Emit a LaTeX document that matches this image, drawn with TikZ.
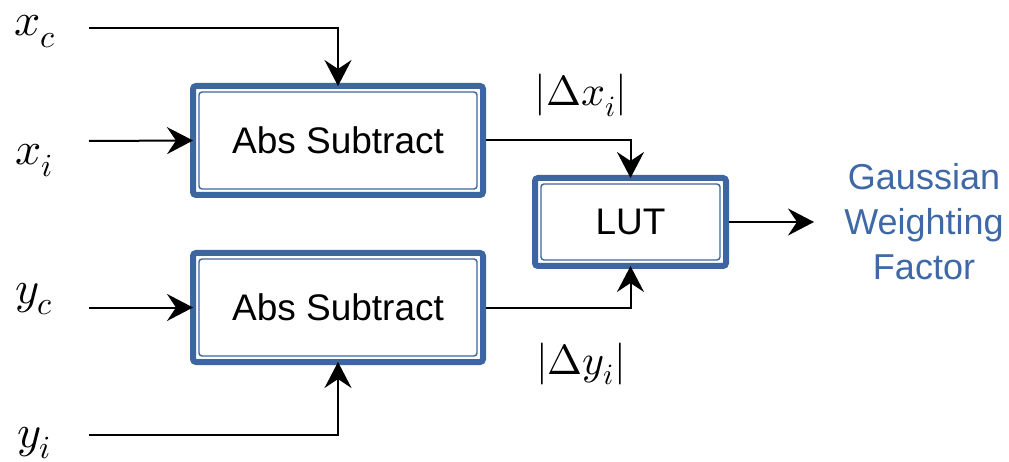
\documentclass[tikz,border=0pt]{standalone}
\usepackage{fontspec}
\setmainfont{Liberation Sans}
\usepackage{unicode-math}
\usetikzlibrary{arrows.meta}
\definecolor{frameblue}{HTML}{3D659F}
\definecolor{labelblue}{HTML}{3F68A6}
\tikzset{
  block/.style={draw=frameblue, line width=6pt, rounded corners=3pt,
    fill=white, font=\fontsize{37}{42}\selectfont,
    path picture={\draw[frameblue, line width=1.4pt]
      ([shift={(6,6)}]path picture bounding box.north west) rectangle
      ([shift={(-6,-6)}]path picture bounding box.south east);}},
  arr/.style={line width=2pt, -{Stealth[length=26pt,width=27pt,inset=9pt]}},
  intoblock/.style={arr, shorten >=-3pt},
  inlbl/.style={font=\fontsize{46}{50}\selectfont, anchor=base west, inner sep=0pt},
  mathlbl/.style={font=\fontsize{42}{48}\selectfont, anchor=base, inner sep=0pt},
}
\begin{document}
\begin{tikzpicture}[x=1pt, y=-1pt]
  \useasboundingbox (0,0) rectangle (1009,462);

  % processing blocks
  \node[block, minimum width=290pt, minimum height=109pt] (b1) at (338,140.5) {Abs Subtract};
  \node[block, minimum width=290pt, minimum height=109pt] (b2) at (338,307.5) {Abs Subtract};
  \node[block, minimum width=191pt, minimum height=88pt] (lut) at (630.5,222) {LUT};

  % input signals
  \node[inlbl] (xc) at (14,36) {$x_c$};
  \node[inlbl] (xi) at (15,165) {$x_i$};
  \node[inlbl] (yc) at (15,303) {$y_c$};
  \node[inlbl] (yi) at (17,447) {$y_i$};
  \coordinate (xcs) at (89,28);
  \coordinate (xis) at (89,141);
  \coordinate (ycs) at (89,307.5);
  \coordinate (yis) at (89,435);
  \coordinate (outend) at (814,222);

  % intermediate and output labels
  \node[mathlbl] (dx) at (581,106) {$|\Delta x_i|$};
  \node[mathlbl] (dy) at (581,374) {$|\Delta y_i|$};
  \node[align=center, text=labelblue, font=\fontsize{36}{45}\selectfont] (gw) at (924,222)
    {Gaussian\\Weighting\\Factor};

  % connectors
  \draw[intoblock] (xcs) -| (b1.north);
  \draw[intoblock] (xis) -- (b1.west);
  \draw[intoblock] (ycs) -- (b2.west);
  \draw[intoblock] (yis) -| (b2.south);
  \draw[intoblock] (b1.east) -| (lut.north);
  \draw[intoblock] (b2.east) -| (lut.south);
  \draw[arr] (lut.east) -- (outend);
\end{tikzpicture}
\end{document}
